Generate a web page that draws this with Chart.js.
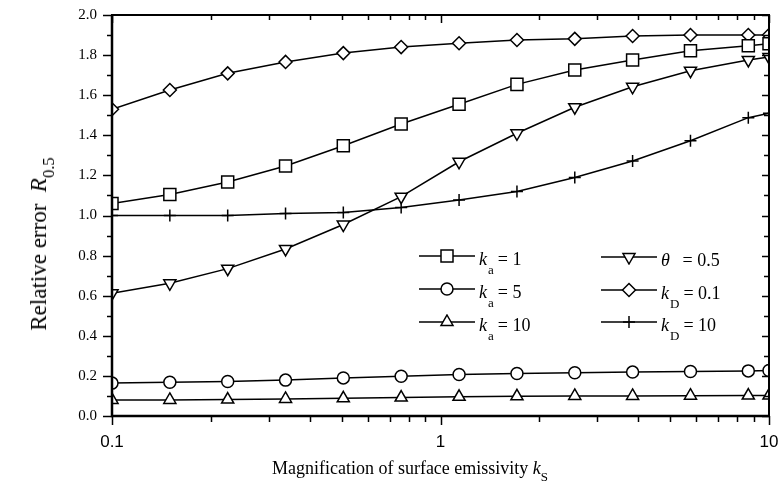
<!DOCTYPE html>
<html>
<head>
<meta charset="utf-8">
<script src="https://cdn.jsdelivr.net/npm/chart.js@4/dist/chart.umd.min.js"></script>
<style>
  body { margin: 0; background: #fff; }
  #wrap { position: relative; width: 782px; height: 493px; }
  .lbl { position: absolute; font-family: "Liberation Serif", "Times New Roman", serif; color: #000; white-space: nowrap; }
  .lbl sub { font-size: 0.72em; position: relative; top: 0.15em; vertical-align: sub; line-height: 0; }
  .leg { position: absolute; display: flex; align-items: center; height: 20px; }
  .leg svg { display: block; }
  .leg span { font-family: "Liberation Serif", serif; font-size: 18px; margin-left: 3px; position: relative; top: 3px; }
  .leg sub { font-size: 13px; vertical-align: -9px; line-height: 0; margin-left: 1px; margin-right: 4px; }
</style>
</head>
<body>
<div id="wrap">
  <canvas id="myChart" width="782" height="493"></canvas>
  <div class="lbl" id="ytitle" style="left:39px; top:244px; font-size:23px; transform:translate(-50%,-50%) rotate(-90deg);">Relative error&nbsp;&nbsp;<i>R</i><sub>0.5</sub></div>
  <div class="lbl" id="xtitle" style="left:410px; top:458px; font-size:18px; transform:translateX(-50%);">Magnification of surface emissivity <i>k</i><sub>S</sub></div>
  <div id="legend"></div>
</div>
<script>
// x values: magnification of surface emissivity kS
const kS = [0.1, 0.15, 0.225, 0.3375, 0.506, 0.759, 1.139, 1.709, 2.563, 3.844, 5.767, 8.65, 10];

// relative error R0.5 for each case
const ka1 = [1.06, 1.105, 1.167, 1.247, 1.348, 1.456, 1.555, 1.654, 1.726, 1.776, 1.822, 1.847, 1.857];
const ka5 = [0.164, 0.168, 0.172, 0.179, 0.19, 0.198, 0.207, 0.212, 0.216, 0.219, 0.222, 0.225, 0.227];
const ka10 = [0.08, 0.08, 0.082, 0.085, 0.088, 0.092, 0.096, 0.098, 0.1, 0.1, 0.101, 0.102, 0.102];
const theta05 = [0.612, 0.662, 0.735, 0.833, 0.955, 1.094, 1.268, 1.41, 1.54, 1.642, 1.722, 1.776, 1.79];
const kD01 = [1.53, 1.626, 1.709, 1.766, 1.81, 1.84, 1.859, 1.875, 1.881, 1.895, 1.9, 1.9, 1.9];
const kD10 = [1.0, 1.0, 1.0, 1.01, 1.015, 1.04, 1.077, 1.12, 1.19, 1.272, 1.373, 1.488, 1.51];

// axis ticks
const yTicks = [0, 0.2, 0.4, 0.6, 0.8, 1.0, 1.2, 1.4, 1.6, 1.8, 2.0];
const yMinor = [0.1, 0.3, 0.5, 0.7, 0.9, 1.1, 1.3, 1.5, 1.7, 1.9];
const xTicks = [0.1, 1, 10];
const xMinor = [0.2, 0.3, 0.4, 0.5, 0.6, 0.7, 0.8, 0.9, 2, 3, 4, 5, 6, 7, 8, 9];

const series = [
    { label: "ka = 1", data: ka1, style: "rect", r: 8.5, rot: 0 },
    { label: "ka = 5", data: ka5, style: "circle", r: 6, rot: 0 },
    { label: "ka = 10", data: ka10, style: "triangle", r: 7, rot: 0 },
    { label: "θ = 0.5", data: theta05, style: "triangle", r: 7, rot: 180 },
    { label: "kD = 0.1", data: kD01, style: "rectRot", r: 6.5, rot: 0 },
    { label: "kD = 10", data: kD10, style: "cross", r: 6, rot: 0 }
];

// frame + tick marks like the original plot
const frameTicks = {
    id: "frameTicks",
    afterDatasetsDraw(chart) {
        const { ctx, chartArea: a, scales: { x, y } } = chart;
        ctx.save();
        ctx.strokeStyle = "#000";
        ctx.lineWidth = 1.5;
        ctx.beginPath();
        yTicks.forEach(v => {
            const py = Math.round(y.getPixelForValue(v)) + 0.5;
            ctx.moveTo(a.left - 9, py); ctx.lineTo(a.left, py);
            ctx.moveTo(a.right, py); ctx.lineTo(a.right - 7, py);
        });
        yMinor.forEach(v => {
            const py = Math.round(y.getPixelForValue(v)) + 0.5;
            ctx.moveTo(a.left - 5, py); ctx.lineTo(a.left, py);
            ctx.moveTo(a.right, py); ctx.lineTo(a.right - 5, py);
        });
        xTicks.forEach(v => {
            const px = Math.round(x.getPixelForValue(v)) + 0.5;
            ctx.moveTo(px, a.bottom); ctx.lineTo(px, a.bottom + 9);
            ctx.moveTo(px, a.top); ctx.lineTo(px, a.top + 8);
        });
        xMinor.forEach(v => {
            const px = Math.round(x.getPixelForValue(v)) + 0.5;
            ctx.moveTo(px, a.bottom); ctx.lineTo(px, a.bottom + 6);
            ctx.moveTo(px, a.top); ctx.lineTo(px, a.top + 5);
        });
        ctx.stroke();
        // box
        ctx.lineWidth = 2;
        ctx.strokeRect(a.left, a.top, a.right - a.left, a.bottom - a.top);
        ctx.lineWidth = 2.5;
        ctx.beginPath();
        ctx.moveTo(a.left, a.top); ctx.lineTo(a.left, a.bottom); ctx.lineTo(a.right, a.bottom);
        ctx.stroke();
        ctx.restore();
    }
};

const ctx = document.getElementById("myChart").getContext("2d");
new Chart(ctx, {
    type: "line",
    data: {
        datasets: series.map(s => ({
            label: s.label,
            data: kS.map((v, i) => ({ x: v, y: s.data[i] })),
            borderColor: "#000",
            borderWidth: 1.5,
            backgroundColor: "#fff",
            pointStyle: s.style,
            pointRadius: s.r,
            pointRotation: s.rot,
            pointBorderColor: "#000",
            pointBorderWidth: 1.5,
            pointBackgroundColor: "#fff",
            tension: 0
        }))
    },
    options: {
        responsive: false,
        animation: false,
        devicePixelRatio: 1,
        layout: { padding: { top: 15, right: 13, left: 0, bottom: 0 } },
        plugins: { legend: { display: false }, tooltip: { enabled: false } },
        scales: {
            x: {
                type: "logarithmic",
                min: 0.1,
                max: 10,
                grid: { display: false, drawTicks: false },
                border: { display: false },
                afterFit: s => { s.height = 77; s.paddingLeft = 0; s.paddingRight = 0; },
                ticks: {
                    autoSkip: false,
                    maxRotation: 0,
                    padding: 16,
                    color: "#000",
                    font: { family: "Liberation Sans", size: 17 },
                    callback: v => xTicks.some(t => Math.abs(t - v) < 1e-9 * t + 1e-12) ? String(v) : ""
                }
            },
            y: {
                min: 0,
                max: 2,
                grid: { display: false, drawTicks: false },
                border: { display: false },
                afterFit: s => { s.width = 112; s.paddingTop = 0; s.paddingBottom = 0; },
                ticks: {
                    stepSize: 0.2,
                    padding: 15,
                    color: "#000",
                    font: { family: "Liberation Serif", size: 15 },
                    callback: v => v.toFixed(1)
                }
            }
        }
    },
    plugins: [frameTicks]
});

// legend with subscripts (html text + svg symbols)
function symbolSvg(style, rot) {
    let m = "";
    const c = 'fill="#fff" stroke="#000" stroke-width="1.5"';
    if (style === "rect") m = `<rect x="23" y="2" width="12" height="12" ${c}/>`;
    if (style === "circle") m = `<circle cx="29" cy="8" r="6" ${c}/>`;
    if (style === "triangle" && !rot) m = `<polygon points="29,1 35,11.5 23,11.5" ${c}/>`;
    if (style === "triangle" && rot) m = `<polygon points="29,15 35,4.5 23,4.5" ${c}/>`;
    if (style === "rectRot") m = `<polygon points="29,1.5 35.5,8 29,14.5 22.5,8" ${c}/>`;
    if (style === "cross") m = `<path d="M29 2 V14 M23 8 H35" stroke="#000" stroke-width="1.5"/>`;
    return `<svg width="58" height="16"><line x1="1" y1="8" x2="57" y2="8" stroke="#000" stroke-width="1.5"/>${m}</svg>`;
}
const legendText = [
    "<i>k</i><sub>a</sub>= 1", "<i>k</i><sub>a</sub>= 5", "<i>k</i><sub>a</sub>= 10",
    "<i>θ</i><sub>&nbsp;</sub>&nbsp;= 0.5", "<i>k</i><sub>D</sub>= 0.1", "<i>k</i><sub>D</sub>= 10"
];
const legendPos = [[418, 246], [418, 279], [418, 312], [600, 247], [600, 280], [600, 312]];
document.getElementById("legend").innerHTML = series.map((s, i) =>
    `<div class="leg" style="left:${legendPos[i][0]}px; top:${legendPos[i][1]}px;">${symbolSvg(s.style, s.rot)}<span>${legendText[i]}</span></div>`
).join("");
</script>
</body>
</html>
